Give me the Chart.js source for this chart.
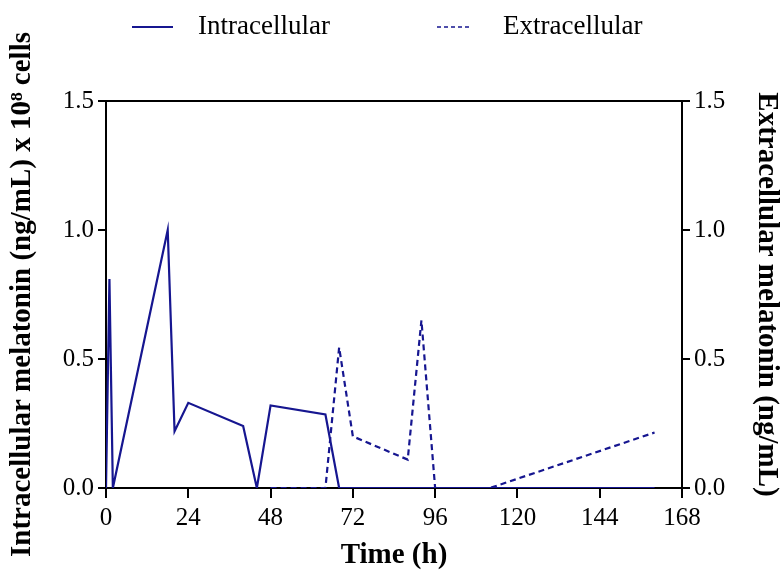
<!DOCTYPE html>
<html lang="en">
<head>
<meta charset="UTF-8">
<title>Melatonin vs Time</title>
<script src="https://cdn.jsdelivr.net/npm/chart.js"></script>
<style>
  html, body { margin: 0; padding: 0; background: #fff; }
  #wrap { width: 784px; height: 573px; }
</style>
</head>
<body>
<div id="wrap"><canvas id="chartMel" width="784" height="573"></canvas></div>
<script>
// data
const hoursIntra = [0, 1, 2, 18, 20, 24, 40, 44, 48, 64, 68, 160];
const intraValues = [0, 0.81, 0, 1.0, 0.22, 0.33, 0.24, 0, 0.32, 0.285, 0, 0];
const hoursExtra = [48, 64, 68, 72, 88, 92, 96, 112, 160];
const extraValues = [0, 0, 0.545, 0.2, 0.11, 0.65, 0, 0, 0.215];
const xTicks = [0, 24, 48, 72, 96, 120, 144, 168];
const yTicks = [0, 0.5, 1.0, 1.5];
const seriesNames = ["Intracellular", "Extracellular"];

const NAVY = '#161690';
const SERIF = "'Liberation Serif', 'Times New Roman', serif";

function pts(xs, ys) {
    return xs.map((x, i) => ({ x: x, y: ys[i] }));
}

// legend drawn by hand, on top of the plot like in the figure
const topLegend = {
    id: 'topLegend',
    afterDraw(chart) {
        const ctx = chart.ctx;
        const items = [
            { x1: 132, x2: 173, tx: 198, dash: [], w: 2 },
            { x1: 437, x2: 469, tx: 503, dash: [4, 3], w: 1.6 }
        ];
        const y = 27;
        ctx.save();
        items.forEach((it, i) => {
            ctx.strokeStyle = NAVY;
            ctx.lineWidth = it.w;
            ctx.setLineDash(it.dash);
            ctx.beginPath();
            ctx.moveTo(it.x1, y);
            ctx.lineTo(it.x2, y);
            ctx.stroke();
            ctx.setLineDash([]);
            ctx.fillStyle = '#000';
            ctx.font = "27px " + SERIF;
            ctx.textBaseline = 'middle';
            ctx.textAlign = 'left';
            ctx.fillText(seriesNames[i], it.tx, y);
        });
        ctx.restore();
    }
};

const tickFont = { family: SERIF, size: 25 };
const titleFont = { family: SERIF, size: 29, weight: 'bold' };

function yScale(position, title, width, titlePad) {
    return {
        type: 'linear',
        position: position,
        min: 0, max: 1.5,
        afterBuildTicks: s => { s.ticks = yTicks.map(v => ({ value: v })); },
        afterFit: s => { s.width = width; },
        ticks: { font: tickFont, color: '#000', padding: 4, callback: v => v.toFixed(1) },
        grid: { drawOnChartArea: false, tickLength: 8, color: '#000', lineWidth: 2 },
        border: { color: '#000', width: 2 },
        title: { display: true, text: title, font: titleFont, color: '#000', padding: titlePad }
    };
}

new Chart(document.getElementById('chartMel'), {
    type: 'line',
    data: {
        datasets: [
            {
                label: seriesNames[0], data: pts(hoursIntra, intraValues), yAxisID: 'y',
                borderColor: NAVY, borderWidth: 2.2, pointRadius: 0, tension: 0, fill: false
            },
            {
                label: seriesNames[1], data: pts(hoursExtra, extraValues), yAxisID: 'y2',
                borderColor: NAVY, borderWidth: 2.2, borderDash: [6, 4], pointRadius: 0, tension: 0, fill: false
            }
        ]
    },
    options: {
        responsive: false,
        animation: false,
        layout: { padding: { top: 101, left: 0, right: 0, bottom: 0 } },
        plugins: { legend: { display: false }, tooltip: { enabled: false } },
        scales: {
            x: {
                type: 'linear', position: 'bottom',
                min: 0, max: 168,
                afterBuildTicks: s => { s.ticks = xTicks.map(v => ({ value: v })); },
                afterFit: s => { s.height = 85; },
                ticks: { font: tickFont, color: '#000', padding: 5, maxRotation: 0 },
                grid: { drawOnChartArea: false, tickLength: 10, color: '#000', lineWidth: 2 },
                border: { color: '#000', width: 2 },
                title: { display: true, text: 'Time (h)', font: titleFont, color: '#000', padding: { top: 0, bottom: 0 } }
            },
            xTop: {
                type: 'linear', position: 'top',
                min: 0, max: 168,
                afterFit: s => { s.height = 0; },
                ticks: { display: false },
                grid: { display: false },
                border: { color: '#000', width: 2 }
            },
            y: yScale('left', 'Intracellular melatonin (ng/mL) x 10\u2078 cells', 106, { top: 5, bottom: 0 }),
            y2: yScale('right', 'Extracellular melatonin (ng/mL)', 102, { top: 0, bottom: 0 })
        }
    },
    plugins: [topLegend]
});
</script>
</body>
</html>
